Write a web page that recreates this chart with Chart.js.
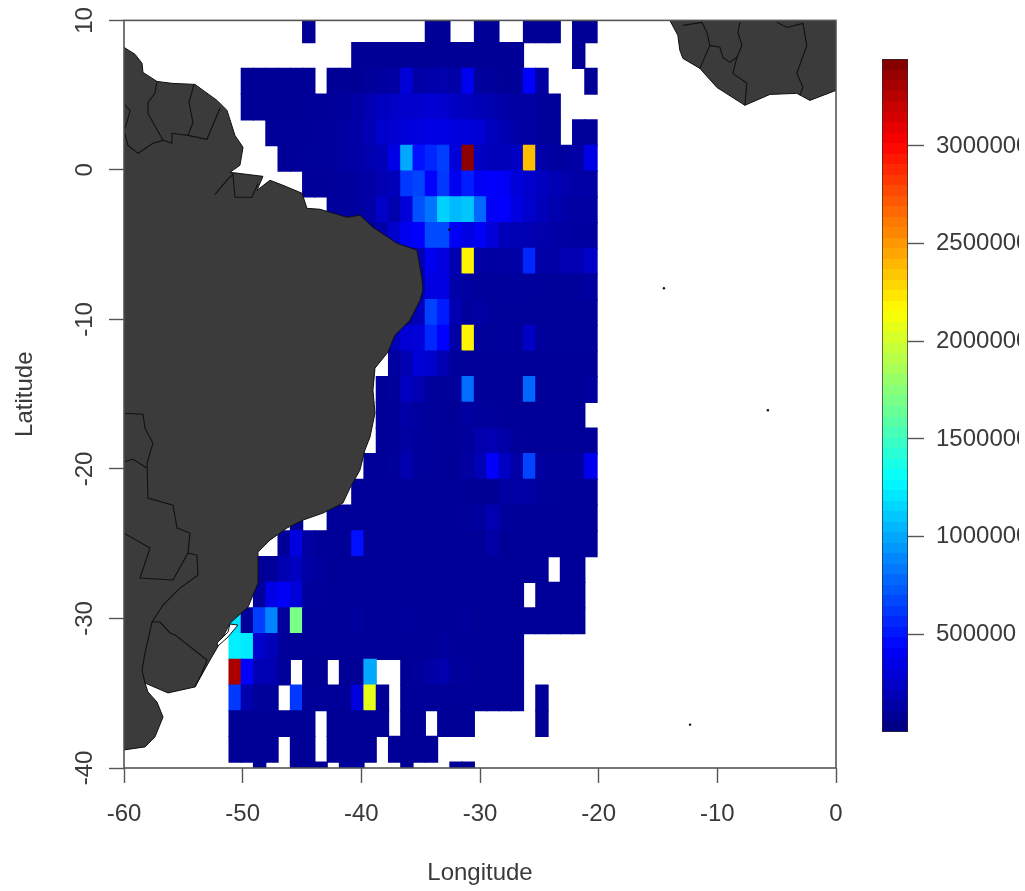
<!DOCTYPE html>
<html>
<head>
<meta charset="utf-8">
<title>Map</title>
<script src="https://cdn.jsdelivr.net/npm/chart.js@4/dist/chart.umd.min.js"></script>
<style>
html,body{margin:0;padding:0;background:#fff;overflow:hidden}
canvas{position:absolute;top:0;display:block}
#map{left:0}
#bar{left:870px}
</style>
</head>
<body>
<canvas id="map" width="1025" height="891"></canvas>
<canvas id="bar" width="149" height="891"></canvas>
<script>
const _ = null;
// grid cell centres (degrees)
const cellLons = [-50.63,-49.60,-48.57,-47.53,-46.50,-45.46,-44.43,-43.39,-42.36,-41.33,
  -40.29,-39.26,-38.22,-37.19,-36.16,-35.12,-34.09,-33.05,-32.02,-30.99,
  -29.95,-28.92,-27.88,-26.85,-25.82,-24.78,-23.75,-22.71,-21.68,-20.65];
const cellLats = [9.37,7.65,5.93,4.21,2.49,0.78,-0.94,-2.66,-4.38,-6.10,
  -7.82,-9.53,-11.25,-12.97,-14.69,-16.41,-18.13,-19.84,-21.56,-23.28,
  -25.00,-26.72,-28.44,-30.15,-31.87,-33.59,-35.31,-37.03,-38.75,-40.47];
const cellHeightDeg = 1.718;
// values in thousands, one row per latitude, north to south
const cellValues = [
 [_,_,_,_,_,_,80,_,_,_, _,_,_,_,_,_,80,80,_,_, 80,80,_,_,80,80,80,_,80,80],
 [_,_,_,_,_,_,_,_,_,_, 80,80,80,80,80,80,80,80,80,80, 80,80,80,80,_,_,_,_,80,_],
 [_,80,80,80,80,80,80,_,80,80, 80,90,110,120,300,130,150,150,130,380, 100,90,80,90,430,120,_,_,_,80],
 [_,80,80,80,80,80,85,85,90,100, 130,170,220,240,260,270,280,270,230,210, 180,160,140,120,120,100,90,_,_,_],
 [_,_,_,85,85,85,85,90,100,120, 130,180,260,280,310,330,340,340,320,310, 280,220,170,140,120,100,90,_,90,90],
 [_,_,_,_,85,85,90,90,100,120, 130,160,190,350,1000,480,560,640,300,3400, 220,200,190,230,2370,140,110,110,130,350],
 [_,_,_,_,_,_,85,85,90,100, 110,130,170,200,620,660,420,620,380,530, 400,420,400,300,260,220,180,150,130,130],
 [_,_,_,_,_,_,_,_,90,100, 110,130,240,160,300,700,820,1140,1060,1100, 780,400,420,330,260,200,160,140,120,120],
 [_,_,_,_,_,_,_,_,_,_, _,80,140,260,380,430,680,680,400,340, 400,300,200,180,170,150,130,120,110,110],
 [_,_,_,_,_,_,_,_,_,_, _,_,_,_,80,170,380,330,160,2190, 120,110,120,130,560,130,130,170,170,240],
 [_,_,_,_,_,_,_,_,_,_, _,_,_,_,80,150,330,330,140,110, 100,100,100,100,100,90,90,90,100,110],
 [_,_,_,_,_,_,_,_,_,_, _,_,_,_,80,200,650,520,170,100, 120,100,90,90,90,90,90,90,90,90],
 [_,_,_,_,_,_,_,_,_,_, _,_,_,200,290,300,560,430,130,2190, 90,90,100,100,240,90,90,90,90,90],
 [_,_,_,_,_,_,_,_,_,_, _,_,_,110,170,300,270,170,100,90, 85,85,85,85,85,85,85,85,85,85],
 [_,_,_,_,_,_,_,_,_,_, _,_,85,90,220,170,100,90,90,800, 85,85,85,85,780,85,85,85,85,110],
 [_,_,_,_,_,_,_,_,_,_, _,_,85,85,130,110,90,85,85,110, 100,90,85,85,85,85,85,85,85,_],
 [_,_,_,_,_,_,_,_,_,_, _,_,85,85,120,100,90,85,85,100, 150,170,130,90,85,85,85,85,85,85],
 [_,_,_,_,_,_,_,_,_,_, _,85,85,90,160,100,90,85,85,120, 180,420,230,130,660,110,100,100,110,380],
 [_,_,_,_,_,_,_,_,_,_, 85,85,85,85,85,85,85,85,85,80, 70,70,120,130,130,100,90,85,85,85],
 [_,_,_,_,_,85,_,_,85,85, 85,85,85,85,85,85,85,85,85,100, 110,170,100,85,85,85,85,85,85,85],
 [_,_,_,_,85,330,120,85,85,85, 480,85,85,85,85,85,85,85,85,85, 85,130,85,85,85,85,85,85,85,85],
 [_,_,85,85,170,220,130,100,85,85, 85,85,85,85,85,85,85,85,85,85, 85,85,85,85,85,85,_,85,85,_],
 [_,_,90,350,400,300,100,90,85,85, 85,85,85,85,85,85,85,85,85,85, 85,85,85,85,_,85,85,85,85,_],
 [1200,90,640,880,100,1700,85,85,85,85, 105,85,85,85,95,85,85,85,85,95, 85,85,85,85,85,85,85,85,85,_],
 [1240,1220,260,200,90,85,85,85,85,85, 85,85,85,85,85,85,85,110,85,85, 85,85,85,85,_,_,_,_,_,_],
 [3300,420,180,170,90,_,80,80,_,80, 80,1000,_,_,85,100,130,150,90,100, 85,85,85,85,_,_,_,_,_,_],
 [620,160,90,90,_,620,85,85,85,85, 320,2070,85,_,85,85,85,85,85,85, 85,85,85,85,_,85,_,_,_,_],
 [80,80,80,80,80,80,80,_,80,80, 80,80,80,_,80,80,_,80,80,80, _,_,_,_,_,80,_,_,_,_],
 [80,80,80,80,_,80,80,_,80,80, 80,80,_,80,80,80,80,_,_,_, _,_,_,_,_,_,_,_,_,_],
 [_,_,80,_,_,80,80,80,_,90, 110,_,_,_,80,_,_,_,80,80, _,_,_,_,_,_,_,_,_,_]
];
const valueUnit = 1000;
const colorMax = 3445000;
const legendTicks = [500000,1000000,1500000,2000000,2500000,3000000];
const lonTicks = [-60,-50,-40,-30,-20,-10,0];
const latTicks = [-40,-30,-20,-10,0,10];

// land outlines [lon, lat]
const southAmerica = [[-60,8.2],[-59.07,7.73],[-58.48,7.13],[-58.40,6.52],[-57.22,5.92],[-55.96,5.79],[-54.02,5.72],[-52.16,4.65],[-51.32,3.98],[-50.65,2.31],[-49.97,1.51],[-50.23,0.31],[-51.07,-0.16],[-48.29,-0.43],[-48.79,-1.36],[-47.70,-0.69],[-46.60,-1.03],[-45.00,-1.56],[-44.58,-2.57],[-43.49,-2.63],[-41.21,-3.17],[-40.12,-3.03],[-39.02,-3.84],[-37.0,-4.91],[-35.31,-5.37],[-34.89,-7.25],[-34.81,-8.05],[-35.06,-8.72],[-35.90,-10.05],[-37.17,-11.05],[-37.76,-12.19],[-38.85,-13.26],[-39.02,-14.73],[-38.85,-16.27],[-39.27,-17.87],[-39.70,-18.74],[-40.12,-20.08],[-40.96,-21.28],[-41.55,-22.28],[-43.23,-22.95],[-44.92,-23.42],[-46.27,-23.95],[-47.70,-24.76],[-48.71,-25.56],[-48.71,-27.63],[-49.55,-29.24],[-51.07,-30.31],[-51.91,-31.64],[-52.75,-32.78],[-54.02,-34.58],[-56.29,-34.98],[-58.23,-34.32],[-57.98,-34.92],[-57.22,-35.59],[-56.71,-36.59],[-57.39,-37.92],[-58.23,-38.59],[-60,-38.79]];
const africa = [[-14.0,10],[-13.33,9.0],[-13.16,8.0],[-12.9,7.46],[-11.47,6.79],[-10.04,5.52],[-7.68,4.32],[-5.57,5.05],[-3.3,5.12],[-2.2,4.65],[0,5.32],[0,10]];
const patosLagoon = [[-51.07,-30.37],[-50.40,-30.44],[-51.24,-31.24],[-52.08,-31.84],[-52.16,-31.64],[-51.24,-30.91]];
const borders = [
 [[-57.22,5.92],[-57.39,5.12],[-57.98,4.52],[-57.98,3.78],[-56.71,1.98],[-57.56,1.78],[-58.82,1.11],[-59.66,1.64],[-60,2.65]],
 [[-60,4.39],[-59.49,3.98],[-59.75,3.18],[-60,2.65]],
 [[-54.10,5.72],[-54.52,4.52],[-54.19,3.18],[-54.61,2.31],[-55.96,2.45],[-55.96,1.78],[-56.71,1.98]],
 [[-51.91,4.12],[-53.01,2.05],[-54.61,2.31]],
 [[-60,-16.27],[-58.40,-16.34],[-58.23,-17.27],[-57.56,-18.27],[-58.06,-19.61],[-57.98,-21.95],[-55.87,-22.42],[-55.53,-23.95],[-54.44,-24.29],[-54.61,-25.63],[-53.85,-25.76],[-53.77,-27.10],[-55.28,-27.97],[-56.71,-29.10],[-57.64,-30.24],[-58.23,-32.31],[-58.48,-33.45],[-58.23,-34.32]],
 [[-60,-19.54],[-59.24,-19.34],[-58.06,-19.95]],
 [[-60,-24.29],[-57.81,-25.29],[-58.65,-27.30],[-55.87,-27.43],[-54.61,-25.63]],
 [[-57.64,-30.24],[-56.97,-30.24],[-56.12,-30.97],[-55.70,-31.10],[-53.01,-32.78],[-53.43,-33.65],[-54.02,-34.58]],
 [[-12.90,9.67],[-11.30,9.87],[-10.88,9.2],[-10.63,8.33],[-11.47,6.79]],
 [[-10.63,8.33],[-9.79,8.2],[-9.53,7.53],[-8.95,7.19],[-8.35,7.53],[-8.69,6.46],[-7.51,5.79],[-7.68,4.32]],
 [[-8.35,7.53],[-7.93,8.33],[-8.27,9.2],[-8.10,9.87]],
 [[-2.79,9.8],[-2.46,8.33],[-3.30,6.46],[-2.79,5.52],[-3.05,4.99]],
 [[-4.98,9.87],[-4.14,9.53],[-2.79,9.8]],
 [[-52.33,-1.63],[-51.32,-0.69],[-50.82,-0.29],[-50.65,-1.83],[-49.22,-1.83],[-48.71,-0.9]]
];
const islets = [[-14.5,-7.91],[-5.74,-16.07],[-12.3,-37.1],[-32.6,-4.0]];

const clamp01 = v => Math.max(0, Math.min(1, v));
function jet(f){
  const r = clamp01(Math.min(4*f-1.5, -4*f+4.5));
  const g = clamp01(Math.min(4*f-0.5, -4*f+3.5));
  const b = clamp01(Math.min(4*f+0.5, -4*f+2.5));
  return `rgb(${Math.round(r*255)},${Math.round(g*255)},${Math.round(b*255)})`;
}

const cells = [], cellColors = [];
cellValues.forEach((row, r) => row.forEach((v, c) => {
  if (v === null) return;
  cells.push({x: cellLons[c], y: [cellLats[r]-cellHeightDeg/2, cellLats[r]+cellHeightDeg/2]});
  cellColors.push(jet(v*valueUnit/colorMax));
}));

const TEXT = '#3a3a3a';
const FONT = {family:'"Liberation Sans", Arial, sans-serif', size:24};

const landPlugin = {
  id:'land',
  afterDatasetsDraw(chart){
    const {ctx, chartArea:a, scales:{x,y}} = chart;
    const trace = pts => pts.forEach((p,i)=>{
      const px=x.getPixelForValue(p[0]), py=y.getPixelForValue(p[1]);
      i?ctx.lineTo(px,py):ctx.moveTo(px,py);
    });
    ctx.save();
    ctx.beginPath(); ctx.rect(a.left,a.top,a.right-a.left,a.bottom-a.top); ctx.clip();
    [southAmerica, africa].forEach(poly=>{
      ctx.beginPath(); trace(poly); ctx.closePath();
      ctx.fillStyle='#3b3b3b'; ctx.fill();
      ctx.strokeStyle='#111'; ctx.lineWidth=1; ctx.stroke();
    });
    ctx.beginPath(); trace(patosLagoon); ctx.closePath();
    ctx.fillStyle='#fff'; ctx.fill();
    ctx.strokeStyle='#111'; ctx.lineWidth=1; ctx.stroke();
    ctx.strokeStyle='#111'; ctx.lineWidth=1.1;
    borders.forEach(line=>{ ctx.beginPath(); trace(line); ctx.stroke(); });
    ctx.restore();
    ctx.save();
    ctx.strokeStyle='#555'; ctx.lineWidth=1.6;
    ctx.strokeRect(a.left,a.top,a.right-a.left,a.bottom-a.top);
    ctx.restore();
  }
};

new Chart(document.getElementById('map'), {
  type:'bar',
  data:{datasets:[
    {type:'scatter', data:islets.map(p=>({x:p[0],y:p[1]})), pointRadius:1.2, pointBackgroundColor:'#111', pointBorderWidth:0, order:0},
    {data:cells, backgroundColor:cellColors, borderWidth:0, inflateAmount:0.6, barPercentage:1, categoryPercentage:1, grouped:false, order:1}
  ]},
  plugins:[landPlugin],
  options:{
    responsive:false, animation:false, events:[],
    layout:{autoPadding:false, padding:{left:0,top:20,right:189,bottom:0}},
    plugins:{legend:{display:false},tooltip:{enabled:false}},
    scales:{
      x:{type:'linear',min:-60,max:0,offset:false,
        afterFit(s){s.height=123;},
        afterBuildTicks(s){s.ticks=lonTicks.map(v=>({value:v}));},
        border:{display:false},
        grid:{offset:false,drawOnChartArea:false,tickLength:15,tickColor:'#555',tickWidth:1.4},
        ticks:{color:TEXT,font:FONT,padding:17,maxRotation:0,autoSkip:false,callback:v=>String(v)},
        title:{display:true,text:'Longitude',color:TEXT,font:FONT,padding:{top:0,bottom:3}}
      },
      y:{type:'linear',min:-40,max:10,
        afterFit(s){s.width=124;},
        afterBuildTicks(s){s.ticks=latTicks.map(v=>({value:v}));},
        border:{display:false},
        grid:{drawOnChartArea:false,tickLength:15,tickColor:'#555',tickWidth:1.4},
        ticks:{color:TEXT,font:FONT,padding:6,minRotation:90,maxRotation:90,crossAlign:'center',autoSkip:false,callback:v=>String(v)},
        title:{display:true,text:'Latitude',color:TEXT,font:FONT,padding:{top:11,bottom:0}}
      }
    }
  }
});

new Chart(document.getElementById('bar'), {
  type:'bar',
  data:{labels:['value'],datasets:[{
    data:[[0,colorMax]],
    backgroundColor(c){
      const a=c.chart.chartArea; if(!a) return '#000';
      const g=c.chart.ctx.createLinearGradient(0,a.bottom,0,a.top);
      const n=64;
      for(let i=0;i<n;i++){ const col=jet((i+0.5)/n); g.addColorStop(i/n,col); g.addColorStop((i+1)/n,col); }
      return g;
    },
    borderColor:'#2a2a2a',borderWidth:1,borderSkipped:false,barPercentage:1,categoryPercentage:1
  }]},
  options:{
    responsive:false, animation:false, events:[],
    layout:{autoPadding:false, padding:{left:12,top:59,right:0,bottom:159}},
    plugins:{legend:{display:false},tooltip:{enabled:false}},
    scales:{
      x:{display:false},
      y:{position:'right',min:0,max:colorMax,
        afterFit(s){s.width=111;},
        afterBuildTicks(s){s.ticks=legendTicks.map(v=>({value:v}));},
        border:{display:false},
        grid:{drawOnChartArea:false,tickLength:16,tickColor:'#555',tickWidth:1.4},
        ticks:{color:TEXT,font:{family:FONT.family,size:24},padding:12,autoSkip:false,callback:v=>String(v)}
      }
    }
  }
});
</script>
</body>
</html>
